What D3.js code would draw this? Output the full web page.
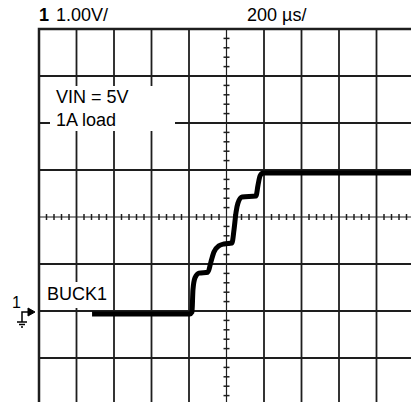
<!DOCTYPE html>
<html>
<head>
<meta charset="utf-8">
<script src="https://cdn.jsdelivr.net/npm/d3@7"></script>
<style>
  body { margin: 0; background: #fff; }
  svg { display: block; font-family: "Liberation Sans", Arial, sans-serif; }
</style>
</head>
<body>
<div class="scope"></div>
<script>
const width = 411;
const height = 402;

// scope settings
const channelLabel = '1';
const voltsPerDiv = '1.00V/';
const timePerDiv = '200 \u00b5s/';
const noteLines = ['VIN = 5V', '1A load'];
const traceLabel = 'BUCK1';

// trace, time in us from screen centre, volts from channel ground
const timeUs = [-717, -195, -184, -179, -168, -147, -99, -83, -67, -40, -13,
  29, 40, 51, 61, 83, 157, 168, 179, 195, 1000];
const volts = [0, 0, 0.04, 0.51, 0.77, 0.87, 0.89, 1.11, 1.32, 1.45, 1.49,
  1.51, 1.79, 2.17, 2.36, 2.49, 2.51, 2.74, 2.94, 3.0, 3.0];

const cols = 10;
const rows = 8;
const groundDiv = 1.936; // ground marker, divisions above bottom edge

const svg = d3
    .select('div.scope')
    .append('svg')
    .attr('width', width)
    .attr('height', height);

const x = d3.scaleLinear().domain([-1000, 1000]).range([39, 414]);
const y = d3.scaleLinear()
    .domain([-groundDiv, rows - groundDiv])
    .range([405, 29]);
const xDiv = d3.scaleLinear().domain([0, cols]).range([39, 414]);
const yDiv = d3.scaleLinear().domain([0, rows]).range([29, 405]);

const grid = svg.append('g').attr('stroke', '#1e1e1e');

grid.selectAll('.vline')
    .data(d3.range(1, cols).filter((i) => i !== cols / 2))
    .enter()
    .append('line')
    .attr('x1', (d) => xDiv(d))
    .attr('x2', (d) => xDiv(d))
    .attr('y1', yDiv(0))
    .attr('y2', yDiv(rows))
    .attr('stroke-width', 1.8);

grid.selectAll('.hline')
    .data(d3.range(1, rows).filter((i) => i !== rows / 2))
    .enter()
    .append('line')
    .attr('x1', xDiv(0))
    .attr('x2', xDiv(cols))
    .attr('y1', (d) => yDiv(d))
    .attr('y2', (d) => yDiv(d))
    .attr('stroke-width', 1.8);

// centre axes with minor ticks
grid.append('line')
    .attr('x1', xDiv(cols / 2)).attr('x2', xDiv(cols / 2))
    .attr('y1', yDiv(0)).attr('y2', yDiv(rows))
    .attr('stroke-width', 1.2);
grid.append('line')
    .attr('x1', xDiv(0)).attr('x2', xDiv(cols))
    .attr('y1', yDiv(rows / 2)).attr('y2', yDiv(rows / 2))
    .attr('stroke-width', 1.2);

grid.selectAll('.xtick')
    .data(d3.range(1, cols * 5).filter((i) => i % 5 !== 0))
    .enter()
    .append('line')
    .attr('x1', (d) => xDiv(d / 5))
    .attr('x2', (d) => xDiv(d / 5))
    .attr('y1', yDiv(rows / 2) - 3)
    .attr('y2', yDiv(rows / 2) + 3)
    .attr('stroke-width', 1.5);

grid.selectAll('.ytick')
    .data(d3.range(1, rows * 5).filter((i) => i % 5 !== 0))
    .enter()
    .append('line')
    .attr('x1', xDiv(cols / 2) - 3)
    .attr('x2', xDiv(cols / 2) + 3)
    .attr('y1', (d) => yDiv(d / 5))
    .attr('y2', (d) => yDiv(d / 5))
    .attr('stroke-width', 1.5);

// border (top and left visible, the rest runs off the frame)
grid.append('path')
    .attr('d', `M${xDiv(cols) + 2},${yDiv(0)}H${xDiv(0)}V${yDiv(rows) + 2}`)
    .attr('fill', 'none')
    .attr('stroke-width', 2.5);

// white boxes behind the notes
svg.append('rect')
    .attr('x', 50).attr('y', 86)
    .attr('width', 125).attr('height', 45)
    .attr('fill', '#fff');
svg.append('rect')
    .attr('x', 44).attr('y', 282)
    .attr('width', 68).attr('height', 26)
    .attr('fill', '#fff');

svg.selectAll('.note')
    .data(noteLines)
    .enter()
    .append('text')
    .attr('x', 56)
    .attr('y', (d, i) => 103 + i * 23)
    .attr('font-size', '18px')
    .text((d) => d);

svg.append('text')
    .attr('x', 47)
    .attr('y', 300)
    .attr('font-size', '18px')
    .text(traceLabel);

// header
svg.append('text')
    .attr('x', 39).attr('y', 21)
    .attr('font-size', '18px')
    .attr('font-weight', 'bold')
    .text(channelLabel);
svg.append('text')
    .attr('x', 56).attr('y', 21)
    .attr('font-size', '18px')
    .text(voltsPerDiv);
svg.append('text')
    .attr('x', 247).attr('y', 21)
    .attr('font-size', '18px')
    .text(timePerDiv);

// ground marker
const gy = y(0);
const marker = svg.append('g').attr('stroke', '#000').attr('stroke-width', 1.5);
marker.append('path')
    .attr('d', `M22,${gy + 8}V${gy - 2}H28`)
    .attr('fill', 'none');
marker.append('path')
    .attr('d', `M28,${gy - 6}L35,${gy - 2}L28,${gy + 2}Z`)
    .attr('fill', '#000')
    .attr('stroke-width', 1);
marker.append('path')
    .attr('d', `M17,${gy + 8}H27M19,${gy + 10.5}H25M21,${gy + 13}H23`);
svg.append('text')
    .attr('x', 12).attr('y', gy - 6)
    .attr('font-size', '16px')
    .text(channelLabel);

// trace
const line = d3.line()
    .x((d, i) => x(timeUs[i]))
    .y((d) => y(d))
    .curve(d3.curveMonotoneX);

svg.append('path')
    .datum(volts)
    .attr('d', line)
    .attr('fill', 'none')
    .attr('stroke', '#000')
    .attr('stroke-width', 5)
    .attr('stroke-linejoin', 'round');
</script>
</body>
</html>
